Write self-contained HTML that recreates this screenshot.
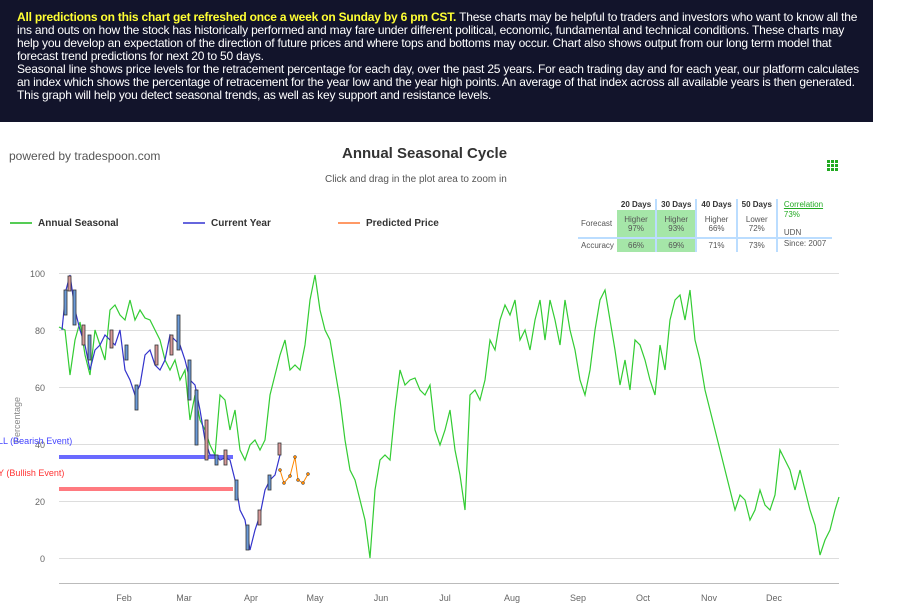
<!DOCTYPE html>
<html><head><meta charset="utf-8"><style>
body{margin:0;width:897px;height:612px;background:#fff;font-family:"Liberation Sans","DejaVu Sans",sans-serif;overflow:hidden;position:relative}
#hdr{position:absolute;left:0;top:0;width:873px;height:122px;background:#12142b;color:#fff;font-size:12px;line-height:13px;box-sizing:border-box;padding:11px 8px 0 17px;letter-spacing:-0.2px}
#hdr b{color:#ffff33}
.t{position:absolute;white-space:nowrap}
table{border-collapse:collapse;font-size:8px;color:#555}
</style></head><body>
<div id="hdr"><b>All predictions on this chart get refreshed once a week on Sunday by 6 pm CST.</b> These charts may be helpful to traders and investors who want to know all the ins and outs on how the stock has historically performed and may fare under different political, economic, fundamental and technical conditions. These charts may help you develop an expectation of the direction of future prices and where tops and bottoms may occur. Chart also shows output from our long term model that forecast trend predictions for next 20 to 50 days.<br>Seasonal line shows price levels for the retracement percentage for each day, over the past 25 years. For each trading day and for each year, our platform calculates an index which shows the percentage of retracement for the year low and the year high points. An average of that index across all available years is then generated. This graph will help you detect seasonal trends, as well as key support and resistance levels.</div>
<div class="t" style="left:9px;top:149px;font-size:12px;color:#555">powered by tradespoon.com</div>
<div class="t" style="left:342px;top:145px;font-size:15px;font-weight:bold;color:#333">Annual Seasonal Cycle</div>
<div class="t" style="left:325px;top:174px;font-size:10px;color:#555">Click and drag in the plot area to zoom in</div>
<div class="t" style="left:10px;top:218px;font-size:10px;font-weight:bold;color:#333"><span style="display:inline-block;width:22px;height:2px;background:#5c5;vertical-align:middle;margin-right:6px"></span>Annual Seasonal</div>
<div class="t" style="left:183px;top:218px;font-size:10px;font-weight:bold;color:#333"><span style="display:inline-block;width:22px;height:2px;background:#66d;vertical-align:middle;margin-right:6px"></span>Current Year</div>
<div class="t" style="left:338px;top:218px;font-size:10px;font-weight:bold;color:#333"><span style="display:inline-block;width:22px;height:2px;background:#f96;vertical-align:middle;margin-right:6px"></span>Predicted Price</div>
<div class="t" style="left:578px;top:199px">
<table>
<tr><td></td><td style="font-weight:bold;color:#333;padding:1px 4px;border-right:2px solid #bdf">20 Days</td><td style="font-weight:bold;color:#333;padding:1px 4px;border-right:2px solid #bdf">30 Days</td><td style="font-weight:bold;color:#333;padding:1px 4px;border-right:2px solid #bdf">40 Days</td><td style="font-weight:bold;color:#333;padding:1px 4px;border-right:2px solid #bdf">50 Days</td><td style="padding:1px 6px;color:#2a2;text-decoration:underline">Correlation</td></tr>
<tr style="height:28px"><td style="padding:0 3px">Forecast</td><td style="background:#a5e6a8;text-align:center;border-right:2px solid #bdf">Higher<br>97%</td><td style="background:#a5e6a8;text-align:center;border-right:2px solid #bdf">Higher<br>93%</td><td style="text-align:center;border-right:2px solid #bdf">Higher<br>66%</td><td style="text-align:center;border-right:2px solid #bdf">Lower<br>72%</td><td style="padding:0 6px;vertical-align:top"><span style="color:#2a2">73%</span><br><br>UDN</td></tr>
<tr style="border-top:2px solid #bdf"><td style="padding:2px 3px">Accuracy</td><td style="background:#a5e6a8;text-align:center;border-right:2px solid #bdf">66%</td><td style="background:#a5e6a8;text-align:center;border-right:2px solid #bdf">69%</td><td style="text-align:center;border-right:2px solid #bdf">71%</td><td style="text-align:center;border-right:2px solid #bdf">73%</td><td style="padding:0 6px;vertical-align:top">Since: 2007</td></tr>
</table></div>
<svg width="897" height="612" style="position:absolute;left:0;top:0" font-family="Liberation Sans, sans-serif">
<g stroke="#ddd" stroke-width="1">
<line x1="59" x2="839" y1="273.5" y2="273.5"/><line x1="59" x2="839" y1="330.5" y2="330.5"/><line x1="59" x2="839" y1="387.5" y2="387.5"/><line x1="59" x2="839" y1="444.5" y2="444.5"/><line x1="59" x2="839" y1="501.5" y2="501.5"/><line x1="59" x2="839" y1="558.5" y2="558.5"/>
<line x1="59" x2="839" y1="583.5" y2="583.5" stroke="#bbb"/>
</g>
<g font-size="9" fill="#666" text-anchor="end">
<text x="45" y="277">100</text><text x="45" y="334">80</text><text x="45" y="391">60</text><text x="45" y="448">40</text><text x="45" y="505">20</text><text x="45" y="562">0</text>
</g>
<g font-size="9" fill="#666" text-anchor="middle">
<text x="124" y="601">Feb</text><text x="184" y="601">Mar</text><text x="251" y="601">Apr</text><text x="315" y="601">May</text><text x="381" y="601">Jun</text><text x="445" y="601">Jul</text><text x="512" y="601">Aug</text><text x="578" y="601">Sep</text><text x="643" y="601">Oct</text><text x="709" y="601">Nov</text><text x="774" y="601">Dec</text>
</g>
<text transform="translate(20,420) rotate(-90)" font-size="9" fill="#888" text-anchor="middle">Percentage</text>
<line x1="59" x2="233" y1="457" y2="457" stroke="#6a6aff" stroke-width="4"/>
<line x1="59" x2="233" y1="489" y2="489" stroke="#ff7a80" stroke-width="4"/>
<text x="-2" y="444" font-size="9" fill="#44f">LL (Bearish Event)</text>
<text x="-2" y="476" font-size="9" fill="#f33">Y (Bullish Event)</text>
<polyline fill="none" stroke="#3c3" stroke-width="1.2" points="59,327 65,330 70,375 75,340 80,322 85,355 90,375 95,330 100,345 105,360 110,310 115,305 120,315 125,320 130,300 135,320 140,310 145,318 150,320 155,330 160,340 165,360 170,370 175,360 180,380 185,370 190,420 195,395 200,420 205,430 210,445 215,455 220,395 225,400 230,430 235,410 240,450 245,460 250,445 255,440 260,450 265,440 270,395 275,375 280,355 285,340 290,370 295,365 300,370 305,345 310,300 315,275 320,310 325,330 330,340 335,370 340,400 345,440 350,470 355,480 360,500 365,520 370,558 375,490 380,460 385,455 390,460 395,410 400,370 405,385 410,380 415,378 420,390 425,395 430,385 435,430 440,445 445,430 450,410 455,450 460,475 465,510 470,395 475,390 480,400 485,380 490,340 495,350 500,320 505,305 510,315 515,300 520,340 525,330 530,350 535,320 540,300 545,340 550,300 555,320 560,345 565,300 570,330 575,350 580,380 585,395 590,370 595,330 600,300 605,290 610,320 615,350 620,385 625,360 630,390 635,340 640,345 645,360 650,380 655,395 660,345 665,370 670,320 675,300 680,295 685,320 690,290 695,340 700,360 705,390 710,410 715,430 720,450 725,470 730,490 735,510 740,495 745,500 750,520 755,510 760,490 765,505 770,510 775,495 780,450 785,460 790,470 795,490 800,470 805,490 810,510 815,525 820,555 825,540 830,530 835,510 839,497"/>
<polyline fill="none" stroke="#33c" stroke-width="1.2" points="62,330 66,290 70,275 75,310 80,330 85,345 90,370 95,350 100,345 105,335 110,340 115,345 120,330 125,370 130,380 135,395 140,385 145,355 150,350 155,365 160,370 165,360 170,335 175,340 180,345 185,360 190,380 195,385 200,410 205,440 210,455 215,455 220,460 225,458 230,460 235,480 240,510 245,520 250,550 255,530 260,515 265,490 270,480 275,475 280,455"/>
<g stroke="#333" stroke-width="0.8">
<rect x="64" y="290" width="3" height="25" fill="#6a9ad8"/><rect x="68" y="276" width="3" height="15" fill="#d89a9a"/><rect x="73" y="290" width="3" height="35" fill="#6a9ad8"/><rect x="82" y="325" width="3" height="20" fill="#d89a9a"/><rect x="88" y="335" width="3" height="25" fill="#6a9ad8"/><rect x="110" y="330" width="3" height="18" fill="#d89a9a"/><rect x="125" y="345" width="3" height="15" fill="#6a9ad8"/><rect x="135" y="385" width="3" height="25" fill="#6a9ad8"/><rect x="155" y="345" width="3" height="20" fill="#d89a9a"/><rect x="170" y="335" width="3" height="20" fill="#d89a9a"/><rect x="177" y="315" width="3" height="35" fill="#6a9ad8"/><rect x="188" y="360" width="3" height="40" fill="#6a9ad8"/><rect x="195" y="390" width="3" height="55" fill="#6a9ad8"/><rect x="205" y="420" width="3" height="40" fill="#d89a9a"/><rect x="215" y="455" width="3" height="10" fill="#6a9ad8"/><rect x="224" y="450" width="3" height="15" fill="#d89a9a"/><rect x="235" y="480" width="3" height="20" fill="#6a9ad8"/><rect x="246" y="525" width="3" height="25" fill="#6a9ad8"/><rect x="258" y="510" width="3" height="15" fill="#d89a9a"/><rect x="268" y="475" width="3" height="15" fill="#6a9ad8"/><rect x="278" y="443" width="3" height="12" fill="#d89a9a"/>
</g>
<polyline fill="none" stroke="#f80" stroke-width="1" points="280,470 284,483 290,476 295,457 298,480 303,483 308,474"/>
<g fill="#f80" stroke="#333" stroke-width="0.5"><circle cx="280" cy="470" r="1.5"/><circle cx="284" cy="483" r="1.5"/><circle cx="290" cy="476" r="1.5"/><circle cx="295" cy="457" r="1.5"/><circle cx="298" cy="480" r="1.5"/><circle cx="303" cy="483" r="1.5"/><circle cx="308" cy="474" r="1.5"/></g>
<g fill="#2a2"><rect x="827" y="160" width="3" height="3"/><rect x="831" y="160" width="3" height="3"/><rect x="835" y="160" width="3" height="3"/><rect x="827" y="164" width="3" height="3"/><rect x="831" y="164" width="3" height="3"/><rect x="835" y="164" width="3" height="3"/><rect x="827" y="168" width="3" height="3"/><rect x="831" y="168" width="3" height="3"/><rect x="835" y="168" width="3" height="3"/></g>
</svg>
</body></html>
